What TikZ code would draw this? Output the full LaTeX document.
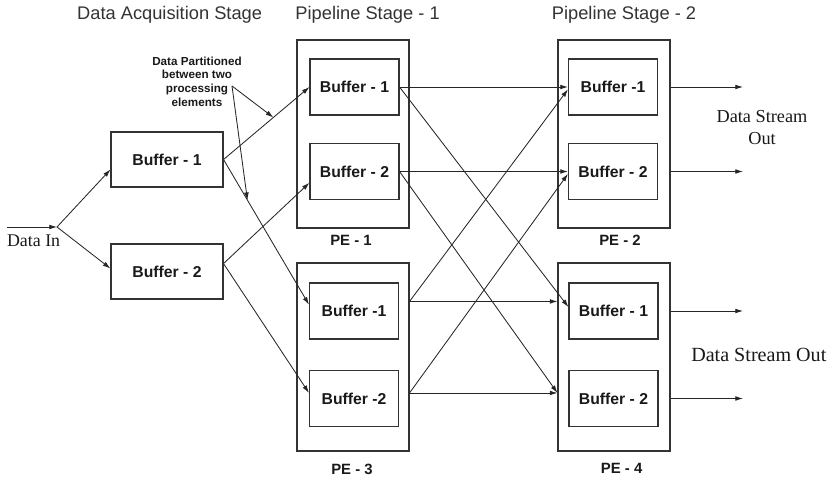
\documentclass[tikz,border=0pt]{standalone}
\usepackage{fontspec}
\setmainfont{Liberation Serif}
\setsansfont{Liberation Sans}
\usepackage{tikz}
\usetikzlibrary{positioning,arrows.meta,calc}

\begin{document}
\begin{tikzpicture}[
  >={Latex[length=5.5pt,width=3.4pt]},
  every node/.style={text=black!90},
  buf/.style={draw=black!80,line width=0.75pt,minimum width=2.225cm,
    minimum height=1.4cm,inner sep=0pt,
    font=\sffamily\bfseries\fontsize{11.2}{13}\selectfont},
  acqbuf/.style={buf,minimum width=2.8cm,minimum height=1.375cm},
  pe/.style={draw=black!80,line width=0.75pt,minimum width=2.8cm,
    minimum height=4.7cm,inner sep=0pt},
  pelabel/.style={anchor=base,font=\sffamily\bfseries\fontsize{10.6}{13}\selectfont},
  stage/.style={anchor=base,text=black!80,font=\sffamily\fontsize{13}{15}\selectfont},
  note/.style={align=center,inner sep=0pt,
    font=\sffamily\bfseries\fontsize{8.3}{9.75}\selectfont},
  link/.style={->,line width=0.6pt,draw=black!85}
]
\useasboundingbox (0,0) rectangle (20.675,12);

% ステージ見出し
\node[stage] (t0) at (4.24,11.5) {Data Acquisition Stage};
\node[stage] (t1) at (9.19,11.5) {Pipeline Stage - 1};
\node[stage] (t2) at (15.6,11.5) {Pipeline Stage - 2};

% データ取得段のバッファ
\node[acqbuf] (acq1) at (4.175,8.0125) {Buffer - 1};
\node[acqbuf] (acq2) at (4.175,5.2125) {Buffer - 2};

% 処理要素 PE-1 .. PE-4
\node[pe] (pe1) at (8.825,8.65) {};
\node[pe] (pe3) at (8.825,3.075) {};
\node[pe] (pe2) at (15.35,8.65) {};
\node[pe] (pe4) at (15.35,3.075) {};

\node[buf] (b11) at (8.8625,9.825) {Buffer - 1};
\node[buf] (b12) at (8.8625,7.7125) {Buffer - 2};
\node[buf] (b31) at (8.85,4.225) {Buffer -1};
\node[buf] (b32) at (8.85,2.0375) {Buffer -2};
\node[buf] (b21) at (15.325,9.825) {Buffer -1};
\node[buf] (b22) at (15.325,7.7125) {Buffer - 2};
\node[buf] (b41) at (15.3375,4.225) {Buffer - 1};
\node[buf] (b42) at (15.3375,2.0375) {Buffer - 2};

\node[pelabel] (l1) at (8.775,5.875) {PE - 1};
\node[pelabel] (l3) at (8.8,0.15) {PE - 3};
\node[pelabel] (l2) at (15.5,5.875) {PE - 2};
\node[pelabel] (l4) at (15.54,0.175) {PE - 4};

% 入力
\coordinate (in) at (0.175,6.325);
\coordinate (split) at (1.425,6.325);
\node[anchor=base,font=\fontsize{12.7}{15}\selectfont] (din) at (0.84,5.85) {Data In};
\draw[link] (in) -- (split);
\draw[link] (split) -- (acq1.190);
\draw[link] (split) -- (acq2.177);

% 取得段 -> 第1段
\draw[link] (acq1.east) -- coordinate[pos=0.58] (hit1) (b11.west);
\draw[link] (acq1.east) -- coordinate[pos=0.28] (hit2) (b31.172);
\draw[link] (acq2.8) -- (b12.194);
\draw[link] (acq2.8) -- (b32.173);

% 分割の注記
\node[note] (note) at (4.925,9.96) {Data Partitioned\\between two\\processing\\elements};
\coordinate (nt) at (5.8,9.85);
\draw[link] (nt) -- (hit1);
\draw[link] (nt) -- (hit2);

% 第1段 -> 第2段
\draw[link] (b11.east) -- (b21.west);
\draw[link] (b11.east) -- (b41.175);
\draw[link] (b12.east) -- (b22.west);
\draw[link] (b12.east) -- (pe4.west |- b42.173);
\draw[link] (pe3.east |- b31.168) -- (pe4.west |- b31.168);
\draw[link] (pe3.east |- b31.168) -- (b21.183);
\draw[link] (pe3.east |- b32.173) -- (pe4.west |- b32.173);
\draw[link] (pe3.east |- b32.173) -- (b22.183);

% 出力
\coordinate (out1) at (18.575,9.825);
\coordinate (out2) at (18.575,7.7125);
\coordinate (out3) at (18.575,4.225);
\coordinate (out4) at (18.575,2.0375);
\draw[link] (pe2.east |- out1) -- (out1);
\draw[link] (pe2.east |- out2) -- (out2);
\draw[link] (pe4.east |- out3) -- (out3);
\draw[link] (pe4.east |- out4) -- (out4);

\node[align=center,font=\fontsize{13}{15.6}\selectfont] (so1) at (19.05,8.8) {Data Stream\\Out};
\node[anchor=base,font=\fontsize{14.3}{16}\selectfont] (so2) at (18.97,2.975) {Data Stream Out};
\end{tikzpicture}
\end{document}
